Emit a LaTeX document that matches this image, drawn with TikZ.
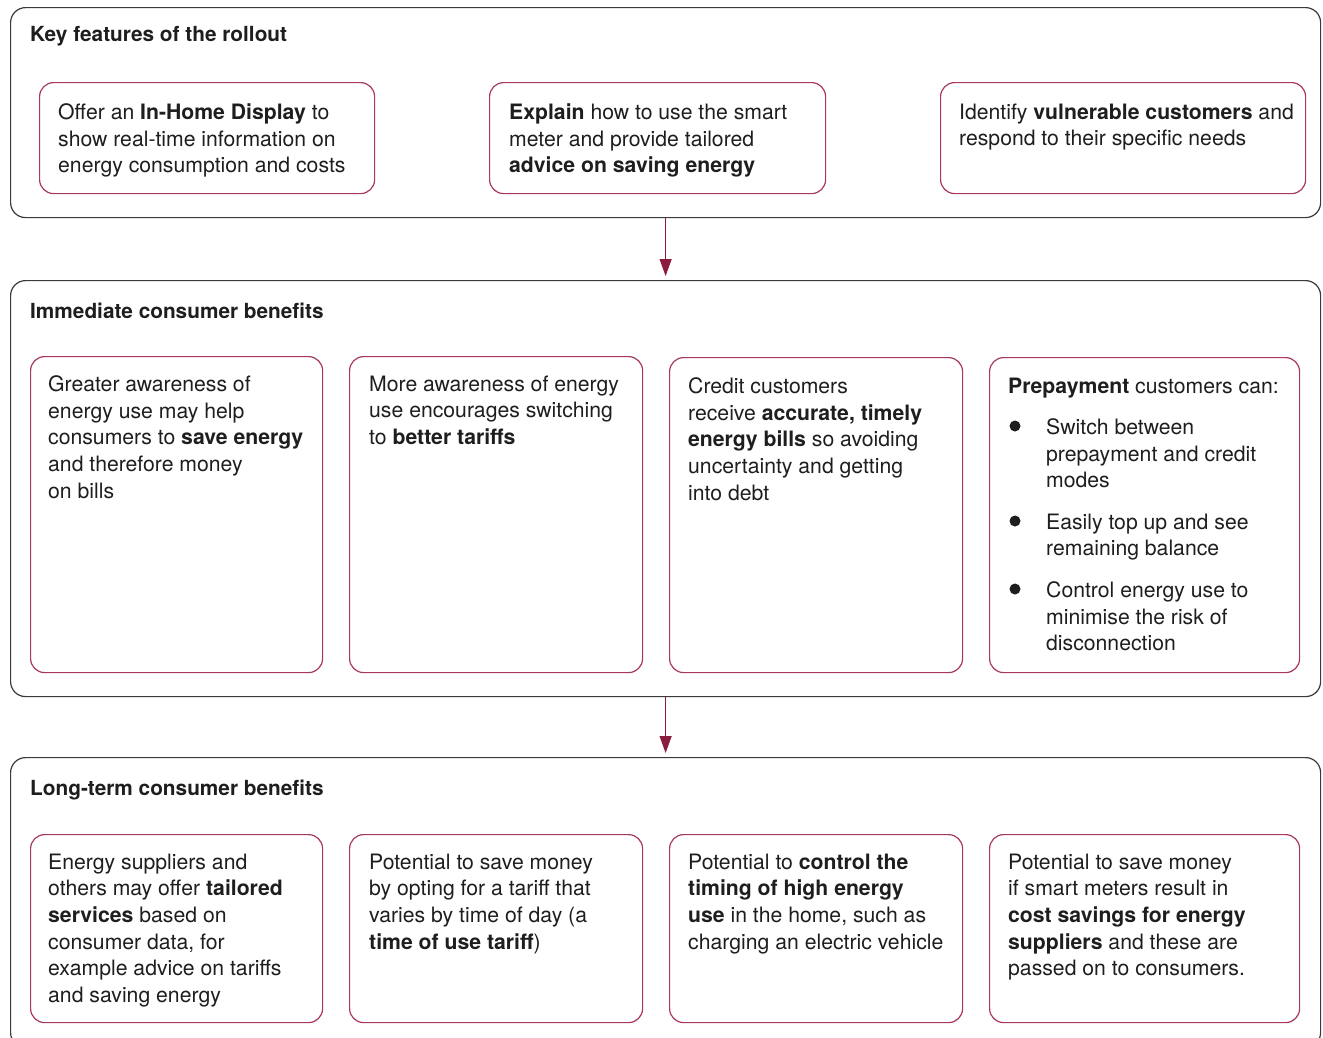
\documentclass[tikz,border=0pt]{standalone}
\usepackage{fontspec}
\setmainfont{TeX Gyre Heros}
\usetikzlibrary{arrows.meta}
\definecolor{panelline}{HTML}{3A3A3A}
\definecolor{boxline}{HTML}{A8385C}
\definecolor{arrowcol}{HTML}{8C1C3E}
\definecolor{txt}{HTML}{1E1E1E}
\tikzset{
  panel/.style={draw=panelline, line width=1.2pt, rounded corners=15pt, anchor=north west, inner sep=0pt},
  itembox/.style={draw=boxline, line width=1.2pt, rounded corners=14pt, anchor=north west, inner sep=0pt},
  titletext/.style={anchor=north west, inner sep=0pt, text=txt, font=\fontsize{20.8}{26.7}\selectfont\bfseries},
  bodytext/.style={anchor=north west, inner sep=0pt, align=left, text=txt, font=\fontsize{21.2}{26.7}\selectfont},
  flowarrow/.style={draw=arrowcol, line width=1.2pt, -{Triangle[length=17pt,width=12pt]}, shorten >=4pt}
}
\begin{document}
\begin{tikzpicture}[x=1pt,y=-1pt]
\clip (0,0) rectangle (1323,1037);
\fill[white] (0,0) rectangle (1323,1037);
% panels
\node[panel, minimum width=1310pt, minimum height=210pt] (p1) at (10,7) {};
\node[panel, minimum width=1310pt, minimum height=416pt] (p2) at (10,280) {};
\node[panel, minimum width=1310pt, minimum height=290pt] (p3) at (10,757) {};
\draw[flowarrow] (p1.south) -- (p2.north);
\draw[flowarrow] (p2.south) -- (p3.north);
% titles
\node[titletext] (t1) at (30,26.4) {Key features of the rollout};
\node[titletext] (t2) at (30,302.4) {Immediate consumer benefits};
\node[titletext] (t3) at (30,779.4) {Long-term consumer benefits};
% panel 1 boxes
\node[itembox, minimum width=335pt, minimum height=111pt] (a1) at (39,82) {};
\node[itembox, minimum width=336pt, minimum height=111pt] (a2) at (489,82) {};
\node[itembox, minimum width=365pt, minimum height=111pt] (a3) at (940,82) {};
\node[bodytext] (a1t) at (58,103.4) {Offer an \textbf{In-Home Display} to\\show real-time information on\\energy consumption and costs};
\node[bodytext] (a2t) at (509,103.4) {\textbf{Explain} how to use the smart\\meter and provide tailored\\\textbf{advice on saving energy}};
\node[bodytext] (a3t) at (959,103.4) {Identify \textbf{vulnerable customers} and\\respond to their specific needs};
% panel 2 boxes
\node[itembox, minimum width=292pt, minimum height=316pt] (b1) at (30,356) {};
\node[itembox, minimum width=293pt, minimum height=316pt] (b2) at (349,356) {};
\node[itembox, minimum width=293pt, minimum height=315pt] (b3) at (669,357) {};
\node[itembox, minimum width=310pt, minimum height=315pt] (b4) at (989,357) {};
\node[bodytext] (b1t) at (48,375.4) {Greater awareness of\\energy use may help\\consumers to \textbf{save energy}\\and therefore money\\on bills};
\node[bodytext] (b2t) at (369,375.4) {More awareness of energy\\use encourages switching\\to \textbf{better tariffs}};
\node[bodytext] (b3t) at (688,377.4) {Credit customers\\receive \textbf{accurate, timely}\\\textbf{energy bills} so avoiding\\uncertainty and getting\\into debt};
\node[bodytext] (b4t) at (1008,377.4) {\textbf{Prepayment} customers can:};
\node[bodytext] (b4i1) at (1046,418.4) {Switch between\\prepayment and credit\\modes};
\node[bodytext] (b4i2) at (1046,513.4) {Easily top up and see\\remaining balance};
\node[bodytext] (b4i3) at (1046,581.4) {Control energy use to\\minimise the risk of\\disconnection};
\fill[txt] (1015,426) circle (5.5);
\fill[txt] (1015,521) circle (5.5);
\fill[txt] (1015,589) circle (5.5);
% panel 3 boxes
\node[itembox, minimum width=292pt, minimum height=188pt] (c1) at (30,834) {};
\node[itembox, minimum width=293pt, minimum height=188pt] (c2) at (349,834) {};
\node[itembox, minimum width=293pt, minimum height=188pt] (c3) at (669,834) {};
\node[itembox, minimum width=310pt, minimum height=188pt] (c4) at (989,834) {};
\node[bodytext] (c1t) at (48,853.4) {Energy suppliers and\\others may offer \textbf{tailored}\\\textbf{services} based on\\consumer data, for\\example advice on tariffs\\and saving energy};
\node[bodytext] (c2t) at (369,853.4) {Potential to save money\\by opting for a tariff that\\varies by time of day (a\\\textbf{time of use tariff})};
\node[bodytext] (c3t) at (688,853.4) {Potential to \textbf{control the}\\\textbf{timing of high energy}\\\textbf{use} in the home, such as\\charging an electric vehicle};
\node[bodytext] (c4t) at (1008,853.4) {Potential to save money\\if smart meters result in\\\textbf{cost savings for energy}\\\textbf{suppliers} and these are\\passed on to consumers.};
\end{tikzpicture}
\end{document}
